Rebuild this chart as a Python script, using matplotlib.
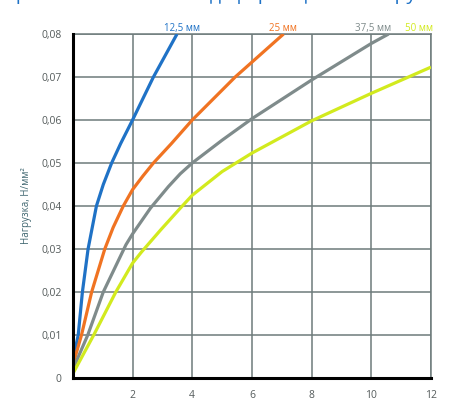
import numpy as np
import matplotlib
matplotlib.use("Agg")
import matplotlib.pyplot as plt

# curves: deformation (x) vs load (y)
x_125 = [0, 0.18, 0.32, 0.51, 0.79, 1.02, 1.3, 1.6, 2.0, 2.7, 3.49]
y_125 = [0.004, 0.01, 0.02, 0.03, 0.04, 0.045, 0.05, 0.0545, 0.06, 0.07, 0.08]

x_25 = [0, 0.29, 0.63, 1.07, 1.35, 1.69, 2.0, 2.35, 2.7, 3.3, 4.0, 5.44, 7.06]
y_25 = [0.003, 0.01, 0.02, 0.03, 0.035, 0.04, 0.0438, 0.047, 0.05, 0.0545, 0.06, 0.07, 0.08]

x_375 = [0, 0.5, 1.02, 1.78, 2.0, 2.6, 3.2, 3.6, 4.0, 5.0, 6.0, 8.0, 10.0, 10.58]
y_375 = [0.002, 0.01, 0.02, 0.031, 0.0335, 0.0395, 0.0445, 0.0475, 0.05, 0.0553, 0.0603,
         0.0693, 0.0778, 0.08]

x_50 = [0, 0.7, 1.44, 2.0, 2.3, 2.95, 3.6, 4.0, 5.0, 6.0, 8.0, 10.0, 12.0]
y_50 = [0.001, 0.01, 0.02, 0.0267, 0.0293, 0.0345, 0.0395, 0.0425, 0.048, 0.0523, 0.0598,
        0.0662, 0.0723]

labels = ["12,5 мм", "25 мм", "37,5 мм", "50 мм"]
colors = ["#1f72c6", "#f07322", "#7f8b8b", "#d2ea1e"]
label_x = [3.67, 7.05, 10.07, 11.6]

x_ticks = [2, 4, 6, 8, 10, 12]
y_ticks = [0, 0.01, 0.02, 0.03, 0.04, 0.05, 0.06, 0.07, 0.08]
y_tick_labels = ["0", "0,01", "0,02", "0,03", "0,04", "0,05", "0,06", "0,07", "0,08"]

plt.rcParams['font.family'] = ['Open Sans', 'DejaVu Sans']

fig = plt.figure(figsize=(4.7, 4.0), dpi=100)
ax = fig.add_axes([0.155, 0.055, 0.762, 0.86])

grid_col = "#6e7b7b"
for xs, ys, c in zip([x_125, x_25, x_375, x_50], [y_125, y_25, y_375, y_50], colors):
    ax.plot(xs, ys, color=c, lw=2.3, solid_joinstyle="round", solid_capstyle="butt", zorder=3)

ax.set_xlim(0, 12)
ax.set_ylim(0, 0.08)
ax.set_xticks(x_ticks)
ax.set_yticks(y_ticks)
ax.set_yticklabels(y_tick_labels)
ax.tick_params(length=0, labelsize=7.5, labelcolor="#555c5c")
ax.tick_params(axis="x", pad=9)
ax.tick_params(axis="y", pad=8)
ax.grid(True, color=grid_col, lw=1.1, zorder=1)

for s in ["top", "right"]:
    ax.spines[s].set_color(grid_col)
    ax.spines[s].set_linewidth(1.1)
for s in ["left", "bottom"]:
    ax.spines[s].set_color("black")
    ax.spines[s].set_linewidth(2.2)
    ax.spines[s].set_zorder(4)

ax.set_ylabel("Нагрузка, Н/мм²", fontsize=7, color="#3f6670", labelpad=7)

for lab, lx, c in zip(labels, label_x, colors):
    ax.text(lx, 1.0, lab, transform=ax.get_xaxis_transform(), ha="center", va="bottom",
            fontsize=7, color=c)

# title cut off by the top edge of the image, only its lower edge shows
fig.text(0.48, 0.99, "Кривые зависимости деформации от нагрузки", ha="center",
         va="bottom", fontsize=14, color="#1f72c6")

fig.savefig("out.png", dpi=100)
